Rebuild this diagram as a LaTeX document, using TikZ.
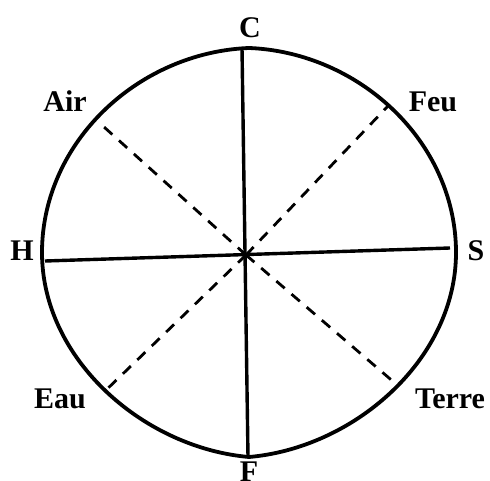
\documentclass[tikz,border=0pt]{standalone}
\usepackage{fontspec}
\setmainfont{Liberation Serif}
\begin{document}
\begin{tikzpicture}[x=1pt,y=-1pt,
  lbl/.style={font=\bfseries\fontsize{30}{30}\selectfont, inner sep=0pt, anchor=base},
  outline/.style={line width=3.8pt, line join=round},
  axis/.style={line width=3.4pt},
  rayline/.style={line width=2.8pt, dash pattern=on 11pt off 9pt}]
\useasboundingbox (0,0) rectangle (490,481);
% points
\coordinate (O) at (246,255);
\coordinate (pC) at (242,48);
\coordinate (pF) at (248,457);
\coordinate (pH) at (45,261);
\coordinate (pS) at (450,248);
\coordinate (pAir) at (104,127);
\coordinate (pFeu) at (388,106);
\coordinate (pEau) at (103,393);
\coordinate (pTerre) at (396,384);
% outline: near-ellipse, slightly pointed at top and bottom
\draw[outline] plot[domain=0:359, samples=360, variable=\t]
  ({249+207*cos(\t)},
   {252.5+204.5*sin(\t) - 9*sin(2*abs(\t-90))*(\t<180) + 4*sin(2*abs(\t-270))*(\t>180)})
  -- cycle;
% axes
\draw[axis] (pC) -- (pF);
\draw[axis] (pH) -- (pS);
% dashed rays
\draw[rayline] (O) -- (pAir);
\draw[rayline] (O) -- (pFeu);
\draw[rayline] (O) -- (pEau);
\draw[rayline] (O) -- (pTerre);
% labels
\node[lbl] (C) at (250,38) {C};
\node[lbl] (F) at (249,481) {F};
\node[lbl] (H) at (22,260) {H};
\node[lbl] (S) at (476,260) {S};
\node[lbl] (Air) at (65,112) {Air};
\node[lbl] (Feu) at (433,112) {Feu};
\node[lbl] (Eau) at (60,408) {Eau};
\node[lbl] (Terre) at (450,408) {Terre};
\end{tikzpicture}
\end{document}
